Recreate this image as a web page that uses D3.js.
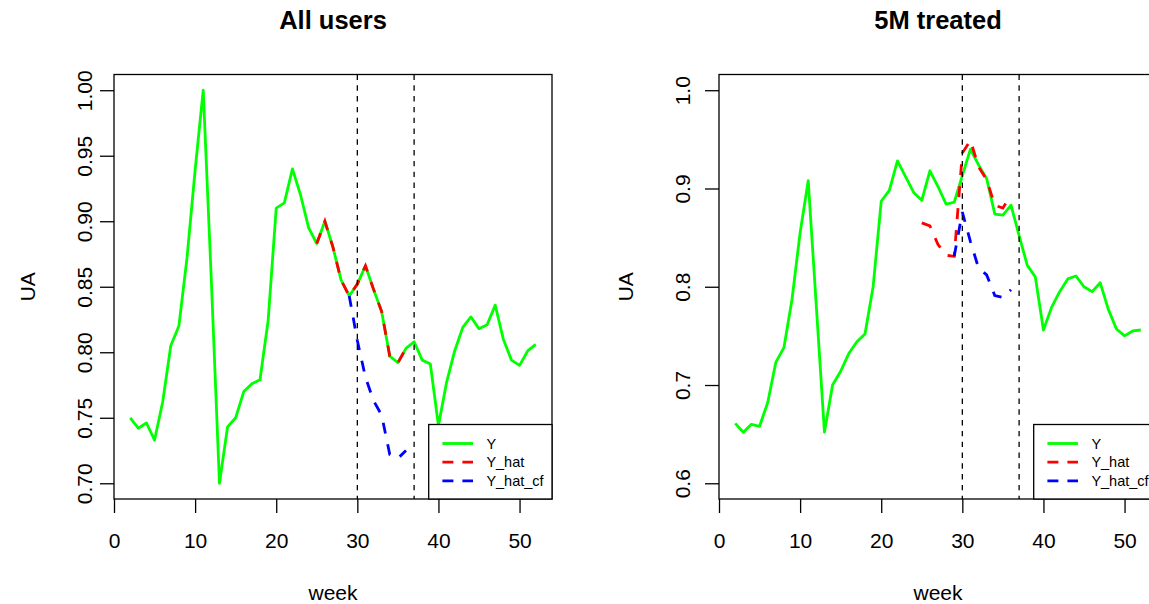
<!DOCTYPE html>
<html>
<head>
<meta charset="utf-8">
<script src="https://cdn.jsdelivr.net/npm/d3@7"></script>
<style>
body { margin: 0; background: #fff; }
text { font-family: "Liberation Sans", Arial, Helvetica, sans-serif; }
</style>
</head>
<body>
<svg id="chart"></svg>
<script>
// weeks on the x axis
var weeks = [2,3,4,5,6,7,8,9,10,11,12,13,14,15,16,17,18,19,20,21,22,23,24,25,26,27,
             28,29,30,31,32,33,34,35,36,37,38,39,40,41,42,43,44,45,46,47,48,49,50,51,52];
var hatWeeks = [25,26,27,28,29,30,31,32,33,34,35,36];
var cfWeeks = [29,30,31,32,33,34,35,36];
var cutWeeks = [30,37];

// All users
var allY = [0.750,0.742,0.746,0.733,0.762,0.805,0.820,0.872,0.939,1.000,0.855,0.700,0.743,
            0.750,0.770,0.776,0.779,0.824,0.910,0.914,0.940,0.920,0.895,0.883,0.900,0.880,
            0.855,0.843,0.852,0.866,0.848,0.831,0.797,0.792,0.803,0.808,0.794,0.791,0.744,
            0.777,0.801,0.819,0.827,0.818,0.821,0.836,0.810,0.794,0.790,0.801,0.806];
var allYhat = [0.883,0.900,0.880,0.855,0.843,0.852,0.866,0.848,0.831,0.797,0.792,0.803];
var allYhatCf = [0.843,0.809,0.781,0.763,0.752,0.722,0.719,0.725];

// 5M treated
var trtY = [0.661,0.652,0.660,0.658,0.682,0.723,0.738,0.787,0.855,0.908,0.780,0.652,0.700,
            0.714,0.732,0.744,0.752,0.800,0.887,0.898,0.928,0.912,0.896,0.888,0.918,0.902,
            0.884,0.886,0.913,0.940,0.924,0.910,0.874,0.873,0.883,0.852,0.822,0.810,0.756,
            0.779,0.795,0.808,0.811,0.800,0.795,0.804,0.777,0.757,0.750,0.755,0.756];
var trtYhat = [0.865,0.862,0.843,0.832,0.831,0.936,0.949,0.922,0.909,0.883,0.880,0.894];
var trtYhatCf = [0.831,0.876,0.846,0.819,0.812,0.791,0.789,0.797];

var xTicks = [0,10,20,30,40,50];
var allTicks = [0.70,0.75,0.80,0.85,0.90,0.95,1.00];
var trtTicks = [0.6,0.7,0.8,0.9,1.0];
var legendNames = ["Y","Y_hat","Y_hat_cf"];

var screen = {width:1149,height:604}
var colors = {Y:"#00ff00",Y_hat:"#ff0000",Y_hat_cf:"#0000ff"}

var svg = d3.select("#chart")
    .attr("width",screen.width)
    .attr("height",screen.height)

var pairUp = function(xs,ys)
{
    return xs.map(function(w,i){ return {week:w,val:ys[i]} })
}

var drawPanel = function(p)
{
    var top = 74.5, bottom = 499;
    var xScale = d3.scaleLinear()
        .domain([0,54])
        .range([p.left,p.left+438])
    var yScale = d3.scaleLinear()
        .domain(p.yDomain)
        .range([bottom,top])

    var g = svg.append("g")

    var line = d3.line()
        .x(function(d){ return xScale(d.week) })
        .y(function(d){ return yScale(d.val) })

    //series
    g.append("path")
        .datum(pairUp(weeks,p.y))
        .attr("d",line)
        .attr("fill","none")
        .attr("stroke",colors.Y)
        .attr("stroke-width",2.8)
        .attr("stroke-linejoin","round")
    g.append("path")
        .datum(pairUp(hatWeeks,p.yhat))
        .attr("d",line)
        .attr("fill","none")
        .attr("stroke",colors.Y_hat)
        .attr("stroke-width",2.8)
        .attr("stroke-dasharray","11,11")
    g.append("path")
        .datum(pairUp(cfWeeks,p.yhatcf))
        .attr("d",line)
        .attr("fill","none")
        .attr("stroke",colors.Y_hat_cf)
        .attr("stroke-width",2.8)
        .attr("stroke-dasharray","11,11")

    //cut lines
    g.selectAll(".cut")
        .data(cutWeeks)
        .enter()
        .append("line")
        .attr("x1",function(w){ return xScale(w) })
        .attr("x2",function(w){ return xScale(w) })
        .attr("y1",top)
        .attr("y2",bottom)
        .attr("stroke","#000")
        .attr("stroke-width",1.3)
        .attr("stroke-dasharray","5.4,5.4")

    //box
    g.append("rect")
        .attr("x",p.left)
        .attr("y",top)
        .attr("width",438)
        .attr("height",bottom-top)
        .attr("fill","none")
        .attr("stroke","#000")
        .attr("stroke-width",1.3)

    //axes
    var xAxis = d3.axisBottom(xScale).tickValues(xTicks).tickSize(14).tickSizeOuter(0);
    var ax = g.append("g")
        .attr("transform","translate(0,"+bottom+")")
        .call(xAxis)
    ax.select(".domain").remove()
    ax.selectAll("line").attr("stroke-width",1.3)
    ax.selectAll("text")
        .attr("y",49)
        .attr("dy",null)
        .attr("font-size",21)
        .attr("font-family","Liberation Sans, Arial, sans-serif")
        .attr("fill","#000")

    var yAxis = d3.axisLeft(yScale).tickValues(p.ticks).tickFormat(d3.format(p.fmt)).tickSize(14).tickSizeOuter(0);
    var ay = g.append("g")
        .attr("transform","translate("+p.left+",0)")
        .call(yAxis)
    ay.select(".domain").remove()
    ay.selectAll("line").attr("stroke-width",1.3)
    ay.selectAll("text")
        .attr("x",null)
        .attr("dy",null)
        .attr("text-anchor","middle")
        .attr("transform","translate("+p.tickLab+",0) rotate(-90)")
        .attr("font-size",21)
        .attr("font-family","Liberation Sans, Arial, sans-serif")
        .attr("fill","#000")

    //labels
    var mid = p.left+219;
    g.append("text")
        .text(p.title)
        .attr("x",mid)
        .attr("y",29)
        .attr("text-anchor","middle")
        .attr("font-weight","bold")
        .attr("font-size",25.5)
    g.append("text")
        .text("week")
        .attr("x",mid)
        .attr("y",600)
        .attr("text-anchor","middle")
        .attr("font-size",21)
    g.append("text")
        .text("UA")
        .attr("text-anchor","middle")
        .attr("font-size",21)
        .attr("transform","translate("+p.uaX+","+((top+bottom)/2)+") rotate(-90)")

    //legend
    var lw = 123.3, lh = 74.5;
    var legend = g.append("g")
        .attr("transform","translate("+(p.left+438-lw)+","+(bottom-lh)+")")
    legend.append("rect")
        .attr("width",lw)
        .attr("height",lh)
        .attr("fill","#fff")
        .attr("stroke","#000")
        .attr("stroke-width",1.3)
    var entries = legend.selectAll(".entry")
        .data(legendNames)
        .enter()
        .append("g")
        .attr("transform",function(name,index){ return "translate(0,"+(19+index*18.7)+")" })
    entries.append("line")
        .attr("x1",13.7)
        .attr("x2",44.3)
        .attr("stroke",function(name){ return colors[name] })
        .attr("stroke-width",2.8)
        .attr("stroke-dasharray",function(name,index){ return index==0 ? null : "11,9" })
    entries.append("text")
        .text(function(name){ return name })
        .attr("x",57.7)
        .attr("y",5.2)
        .attr("font-size",14.5)
}

drawPanel({left:114,title:"All users",yDomain:[0.688,1.012],ticks:allTicks,fmt:".2f",
    y:allY,yhat:allYhat,yhatcf:allYhatCf,tickLab:-22.5,uaX:35})
drawPanel({left:719,title:"5M treated",yDomain:[0.584,1.016],ticks:trtTicks,fmt:".1f",
    y:trtY,yhat:trtYhat,yhatcf:trtYhatCf,tickLab:-29,uaX:633})
</script>
</body>
</html>
